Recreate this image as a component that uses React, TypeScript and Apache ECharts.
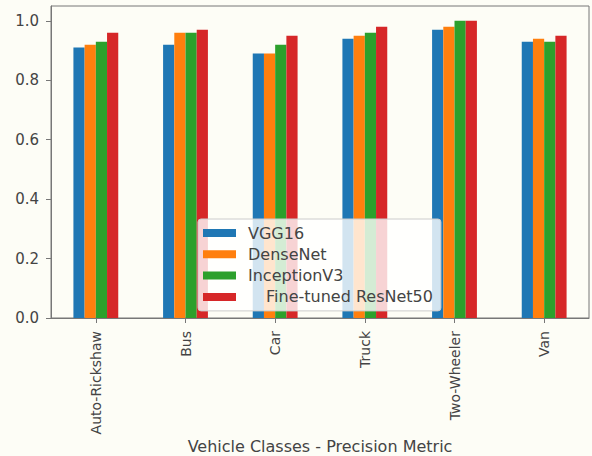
import React, { useEffect, useRef } from "react";
import * as echarts from "echarts";

// Vehicle classes along the x axis
const categories = ["Auto-Rickshaw", "Bus", "Car", "Truck", "Two-Wheeler", "Van"];

// Precision per model and class
const vgg16 = [0.91, 0.92, 0.89, 0.94, 0.97, 0.93];
const denseNet = [0.92, 0.96, 0.89, 0.95, 0.98, 0.94];
const inceptionV3 = [0.93, 0.96, 0.92, 0.96, 1.0, 0.93];
const resNet50 = [0.96, 0.97, 0.95, 0.98, 1.0, 0.95];

const seriesNames = ["VGG16", "DenseNet", "InceptionV3", "Fine-tuned ResNet50"];
const seriesColors = ["#1f77b4", "#ff7f0e", "#2ca02c", "#d62728"];
const seriesValues = [vgg16, denseNet, inceptionV3, resNet50];

const FONT = "DejaVu Sans";
const TEXT = "#444";
const AXIS = "#777";

export default function App() {
  const ref = useRef<HTMLDivElement>(null);

  useEffect(() => {
    if (!ref.current) return;
    const chart = echarts.init(ref.current, undefined, { renderer: "svg" });
    chart.setOption({
      animation: false,
      backgroundColor: "#fdfdf6",
      grid: {
        left: 51,
        right: 3,
        top: 6,
        bottom: 138,
        containLabel: false,
        outerBoundsMode: "none",
        show: true,
        borderColor: AXIS,
        borderWidth: 1,
        backgroundColor: "transparent",
      },
      legend: {
        orient: "vertical",
        left: 198,
        top: 219,
        z: 10,
        icon: "rect",
        itemWidth: 33,
        itemHeight: 8,
        itemGap: 5.3,
        padding: [6, 8, 6, 5],
        backgroundColor: "rgba(255,255,255,0.8)",
        borderColor: "#cccccc",
        borderWidth: 1,
        borderRadius: 3,
        textStyle: {
          fontFamily: FONT,
          fontSize: 16,
          color: TEXT,
          lineHeight: 14,
          padding: [0, 0, 0, 7],
        },
        data: seriesNames.map((name, i) =>
          i === 3
            ? { name, textStyle: { padding: [0, 0, 0, 25] } }
            : { name }
        ),
      },
      xAxis: {
        type: "category",
        data: categories,
        name: "Vehicle Classes - Precision Metric",
        nameLocation: "middle",
        nameGap: 120,
        nameMoveOverlap: false,
        nameTextStyle: { fontFamily: FONT, fontSize: 16, lineHeight: 16, color: TEXT },
        axisLine: { show: true, lineStyle: { color: AXIS, width: 1 } },
        axisTick: { show: true, alignWithLabel: true, length: 5, lineStyle: { color: AXIS } },
        axisLabel: {
          rotate: 90,
          margin: 13,
          fontFamily: FONT,
          fontSize: 14,
          color: TEXT,
        },
        splitLine: { show: false },
      },
      yAxis: {
        type: "value",
        min: 0,
        max: 1.05,
        interval: 0.2,
        axisLine: { show: true, lineStyle: { color: AXIS, width: 1 } },
        axisTick: { show: true, length: 5, lineStyle: { color: AXIS } },
        axisLabel: {
          margin: 12,
          showMaxLabel: false,
          fontFamily: FONT,
          fontSize: 15,
          color: TEXT,
          formatter: (v: number) => {
            const k = Math.round(v / 0.2);
            return Math.abs(v - k * 0.2) < 1e-6 ? v.toFixed(1) : "";
          },
        },
        splitLine: { show: false },
      },
      series: seriesNames.map((name, i) => ({
        name,
        type: "bar",
        data: seriesValues[i],
        barGap: "0%",
        barCategoryGap: "50%",
        itemStyle: { color: seriesColors[i] },
      })),
    });
    return () => chart.dispose();
  }, []);

  return <div ref={ref} style={{ width: 592, height: 456, position: "absolute", left: 0, top: 0 }} />;
}
